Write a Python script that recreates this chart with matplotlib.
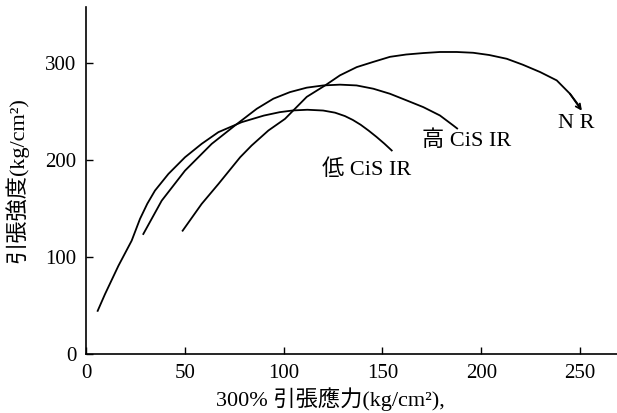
import matplotlib
matplotlib.use("Agg")
import matplotlib.pyplot as plt

# 300% modulus (x) vs tensile strength (y), kg/cm^2
low_x = [5.9, 9.6, 16.4, 23.1, 27.3, 31.0, 34.9, 41.7, 50.1, 58.5, 67.0, 78.8, 90.0,
         98.0, 104.8, 112.0, 120.0, 126.0, 131.0, 135.0, 139.0, 143.0, 147.0, 151.0, 154.7]
low_y = [44.5, 61.7, 91.0, 116.9, 139.3, 155.0, 168.6, 185.8, 203.0, 216.8, 228.9, 239.2, 246.0,
         249.5, 251.3, 252.0, 251.2, 249.0, 245.5, 241.5, 236.5, 230.5, 224.0, 217.0, 210.0]

high_x = [29.0, 38.3, 50.1, 63.6, 75.4, 86.4, 94.8, 103.2, 111.7, 120.1, 128.5, 136.9,
          145.4, 153.8, 162.3, 170.7, 179.1, 185.9, 187.8]
high_y = [123.8, 158.2, 189.2, 216.8, 235.8, 253.0, 263.4, 270.2, 274.8, 277.1, 277.9, 277.1,
          273.7, 268.5, 261.6, 254.7, 246.1, 235.7, 232.7]

nr_x = [48.9, 58.5, 67.0, 78.0, 83.8, 92.3, 100.7, 104.9, 111.7, 121.0, 128.5, 137.0,
        145.4, 153.8, 162.0, 170.7, 179.1, 187.6, 195.9, 204.0, 212.9, 221.0, 229.8,
        238.2, 244.9, 250.0, 250.9]
nr_y = [127.2, 154.8, 175.4, 203.0, 215.1, 230.6, 242.6, 251.3, 265.3, 277.1, 287.5, 296.0,
        301.4, 306.6, 309.0, 310.5, 311.6, 311.6, 310.8, 308.5, 304.6, 298.5, 290.9,
        282.3, 268.5, 254.7, 251.0]

curve_labels = ["低 CiS IR", "高 CiS IR", "N R"]
label_pos = [(119.4, 190.0), (170.0, 220.0), (238.9, 238.0)]

x_ticks = [0, 50, 100, 150, 200, 250]
y_ticks = [0, 100, 200, 300]

serif = ["Liberation Serif", "Noto Sans CJK JP", "DejaVu Serif"]
plt.rcParams["font.family"] = serif

fig = plt.figure(figsize=(6.17, 4.13), dpi=100)
ax = fig.add_axes([0.1394, 0.1429, 0.8606, 0.8401])

lw = 1.3
ax.plot(low_x, low_y, color="black", lw=lw, solid_joinstyle="round")
ax.plot(high_x, high_y, color="black", lw=lw, solid_joinstyle="round")
ax.plot(nr_x[:-1], nr_y[:-1], color="black", lw=lw, solid_joinstyle="round")
ax.annotate("", xy=(nr_x[-1], nr_y[-1]), xytext=(nr_x[-3], nr_y[-3]),
            arrowprops=dict(arrowstyle="->", color="black", lw=lw,
                            shrinkA=0, shrinkB=0, mutation_scale=9))

for txt, (tx, ty) in zip(curve_labels, label_pos):
    ax.text(tx, ty, txt, fontsize=16, ha="left", va="center", family=serif)

ax.set_xlim(0, 268.7)
ax.set_ylim(0, 358)
ax.set_xticks(x_ticks)
ax.set_yticks(y_ticks)
ax.tick_params(direction="in", length=5, width=1, labelsize=15, pad=7)
for s in ["top", "right"]:
    ax.spines[s].set_visible(False)
for s in ["left", "bottom"]:
    ax.spines[s].set_linewidth(1.2)

ax.set_ylabel("引張強度(kg/cm²)", fontsize=16, family=serif)
ax.yaxis.set_label_coords(-0.108, 0.5)
ax.set_xlabel("300% 引張應力(kg/cm²),", fontsize=16, family=serif)
ax.xaxis.set_label_coords(0.461, -0.095)

fig.savefig("out.png", dpi=100)
